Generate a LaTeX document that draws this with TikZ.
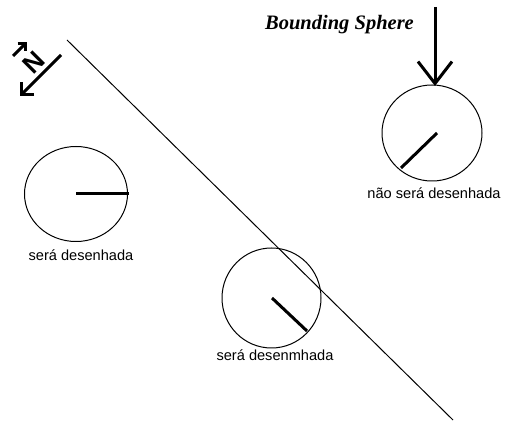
\documentclass[tikz,border=0pt]{standalone}
\usepackage{fontspec}
\setmainfont{Liberation Serif}
\setsansfont{Liberation Sans}
\usetikzlibrary{arrows.meta}
\begin{document}
\begin{tikzpicture}[x=1pt,y=-1pt,
  sphere/.style={draw=black,line width=1pt},
  radius line/.style={draw=black,line width=3pt},
  caption/.style={font=\sffamily\fontsize{14.6}{16}\selectfont,anchor=base,inner sep=0pt},
  bigarrow/.style={line width=3pt,-{Straight Barb[length=22pt,width=34pt]}},
  normalarrow/.style={line width=3pt,-{Straight Barb[length=9pt,width=18pt]}},
  smallarrow/.style={line width=3pt,-{Straight Barb[length=5.5pt,width=11pt]}}]
  \useasboundingbox (0,0) rectangle (506,427);
  \fill[white] (0,0) rectangle (506,427);

  % clipping plane
  \coordinate (p1) at (67,40);
  \coordinate (p2) at (453,420);
  \draw[line width=1pt] (p1) -- (p2);

  % normal of the plane with its label
  \coordinate (n1) at (61,55);
  \coordinate (n2) at (20,96);
  \draw[normalarrow] (n1) -- (n2);
  \coordinate (s1) at (13,56);
  \coordinate (s2) at (27,42);
  \draw[smallarrow] (s1) -- (s2);
  \node[font=\sffamily\bfseries\fontsize{26}{26}\selectfont,rotate=45,inner sep=0pt] (nlab) at (34,63) {N};

  % sphere that lies behind the plane
  \draw[sphere] (432,133) ellipse [x radius=50, y radius=48];
  \coordinate (c1) at (437,133);
  \coordinate (r1) at (401,168);
  \draw[radius line] (c1) -- (r1);
  \node[caption] (t1) at (434,199) {não será desenhada};

  % label and arrow for the bounding sphere
  \node[font=\rmfamily\bfseries\itshape\fontsize{20.5}{22}\selectfont,inner sep=0pt] (bs) at (339.5,25) {Bounding Sphere};
  \coordinate (a1) at (435,7);
  \coordinate (a2) at (435,86);
  \draw[bigarrow] (a1) -- (a2);

  % sphere in front of the plane
  \draw[sphere] (76,194) ellipse [x radius=51.5, y radius=47.5];
  \coordinate (c2) at (76,194);
  \coordinate (r2) at (129,194);
  \draw[radius line] (c2) -- (r2);
  \node[caption] (t2) at (81,261) {será desenhada};

  % sphere cut by the plane
  \draw[sphere] (271.5,298) ellipse [x radius=49.5, y radius=50];
  \coordinate (c3) at (272,298);
  \coordinate (r3) at (307,331);
  \draw[radius line] (c3) -- (r3);
  \node[caption] (t3) at (275,361) {será desenmhada};
\end{tikzpicture}
\end{document}
